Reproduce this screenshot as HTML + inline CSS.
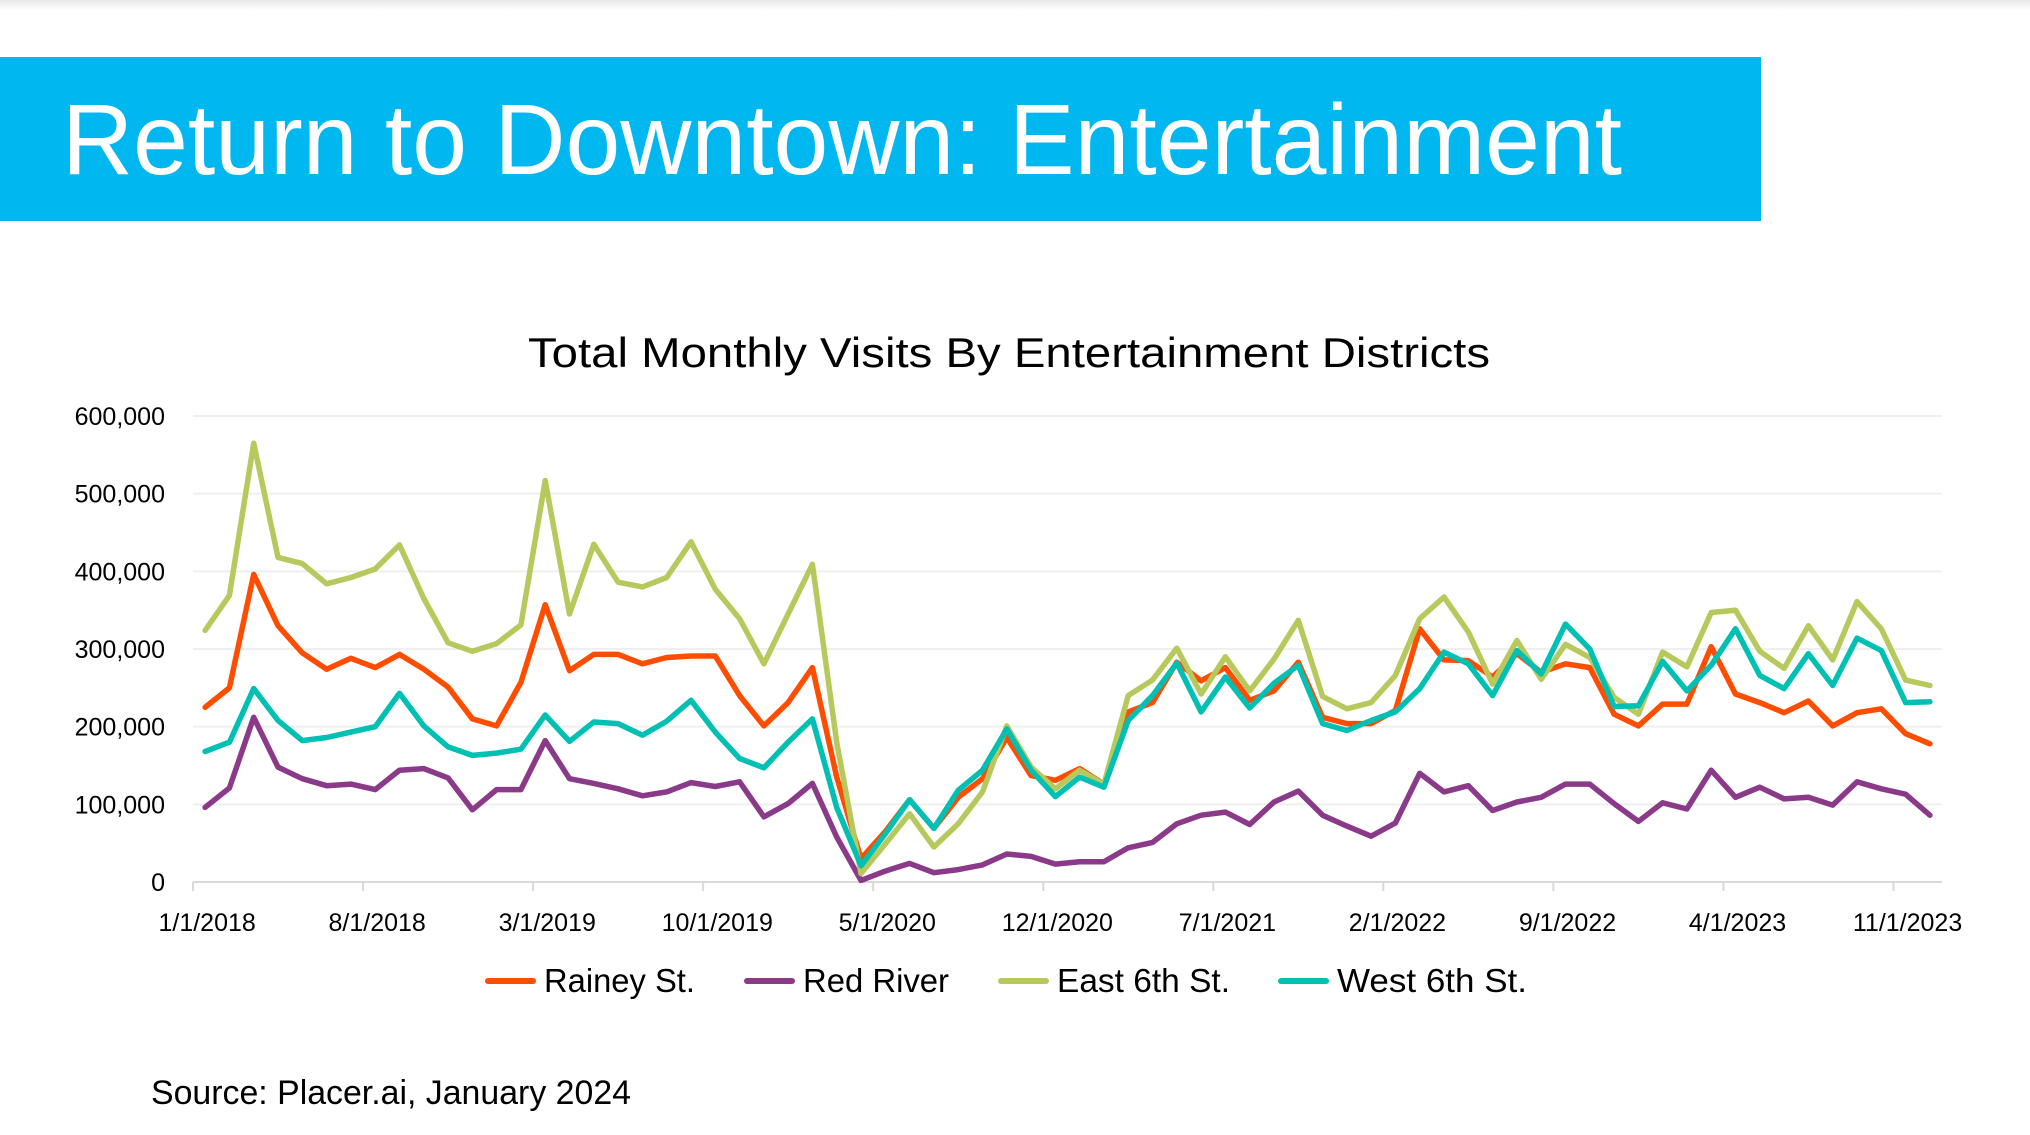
<!DOCTYPE html>
<html><head><meta charset="utf-8">
<style>
html,body{margin:0;padding:0;background:#fff;}
body{width:2030px;height:1135px;overflow:hidden;position:relative;font-family:"Liberation Sans",sans-serif;}
#topshade{position:absolute;left:0;top:0;width:2030px;height:10px;background:linear-gradient(#e8e8e8,#fff);}
</style></head>
<body>
<div id="topshade"></div>
<svg id="page" width="2030" height="1135" style="position:absolute;left:0;top:0">
  <rect x="0" y="57" width="1761" height="164" fill="#00b7ef"/>
  <text x="62" y="174" fill="#fff" font-size="100" textLength="1560" lengthAdjust="spacingAndGlyphs" font-family="Liberation Sans, sans-serif">Return to Downtown: Entertainment</text>
  <text x="1009" y="367" text-anchor="middle" fill="#000" font-size="42" textLength="962" lengthAdjust="spacingAndGlyphs">Total Monthly Visits By Entertainment Districts</text>
  <g id="grid"></g>
  <g id="yticks"></g>
  <g id="xaxis"></g>
  <g id="series"></g>
  <g id="legend"></g>
  <text x="151" y="1104" font-size="34" textLength="480" lengthAdjust="spacingAndGlyphs" fill="#000">Source: Placer.ai, January 2024</text>
</svg>
<script>
const yTicks = [0,100000,200000,300000,400000,500000,600000];
const xLabels = ["1/1/2018","8/1/2018","3/1/2019","10/1/2019","5/1/2020","12/1/2020","7/1/2021","2/1/2022","9/1/2022","4/1/2023","11/1/2023"];
const seriesNames = ["Rainey St.","Red River","East 6th St.","West 6th St."];
const seriesColors = ["#ff4d00","#8b3a8a","#b7c95c","#00bfb3"];
const rainey = [225,250,396,330,295,274,288,276,293,274,251,210,201,257,357,272,293,293,281,289,291,291,240,201,231,276,135,30,65,106,69,109,133,186,137,131,146,126,219,231,283,259,276,234,246,283,212,204,204,221,326,286,285,264,294,270,281,276,216,201,229,229,303,242,231,218,233,201,218,223,191,178];
const redRiver = [96,121,212,148,133,124,126,119,144,146,134,93,119,119,182,133,127,120,111,116,128,123,129,84,101,127,58,2,14,24,12,16,22,36,33,23,26,26,44,51,75,86,90,74,103,117,86,72,59,76,140,116,124,92,103,109,126,126,101,78,102,94,144,109,122,107,109,99,129,120,113,86];
const east6th = [324,369,565,418,410,384,392,403,434,365,308,297,307,331,517,345,435,386,380,392,438,377,339,281,345,409,180,11,49,88,45,75,116,201,148,120,144,126,240,260,301,242,290,246,287,337,239,223,231,266,339,367,322,255,311,261,306,289,238,216,296,277,347,350,297,275,330,286,361,326,260,253];
const west6th = [168,180,249,208,182,186,193,200,243,201,174,163,166,171,215,181,206,204,189,207,234,193,159,147,180,210,96,21,62,106,69,118,144,197,144,110,135,122,208,240,282,219,264,224,256,279,204,195,208,219,249,296,281,240,298,268,332,300,226,227,284,246,279,326,266,249,294,253,314,298,231,232];
const allSeries = [rainey, redRiver, east6th, west6th];

const NS = "http://www.w3.org/2000/svg";
const plotL = 193, plotR = 1942, y0 = 882, yTop = 416;
const nCat = 72;
const catW = (plotR - plotL) / nCat;
function xPos(i){ return plotL + catW * (i + 0.5); }
function yPos(v){ return y0 - (v / 600000) * (y0 - yTop); }
function mk(tag, attrs, parent){ const e = document.createElementNS(NS, tag); for (const k in attrs) e.setAttribute(k, attrs[k]); parent.appendChild(e); return e; }

const grid = document.getElementById('grid');
const yt = document.getElementById('yticks');
yTicks.forEach(v => {
  if (v > 0) {
    const gl = mk('line', {x1:plotL, x2:plotR, y1:yPos(v), y2:yPos(v), stroke:'#efefef', 'stroke-width':2}, grid);
    
    
  }
  const t = mk('text', {x:165, y:yPos(v)+9, 'text-anchor':'end', 'font-size':25, fill:'#000'}, yt);
  t.textContent = v.toLocaleString('en-US');
  
  
});

const xa = document.getElementById('xaxis');
const ax = mk('line', {x1:plotL, x2:plotR, y1:y0, y2:y0, stroke:'#d9d9d9', 'stroke-width':2}, xa);


for (let k = 0; k <= 70; k += 7) {
  const tx = plotL + catW * k;
  const tk = mk('line', {x1:tx, x2:tx, y1:y0, y2:y0+9, stroke:'#d9d9d9', 'stroke-width':2}, xa);
  
  
}
xLabels.forEach((lab, j) => {
  const t = mk('text', {x:xPos(j*7)+2, y:931, 'text-anchor':'middle', 'font-size':25, fill:'#000'}, xa);
  t.textContent = lab;
  
  
});

const sg = document.getElementById('series');
allSeries.forEach((arr, s) => {
  const pts = arr.map((v, i) => xPos(i).toFixed(1) + ',' + yPos(v*1000).toFixed(1)).join(' ');
  const pl = mk('polyline', {points:pts, fill:'none', stroke:seriesColors[s], 'stroke-width':5.5, 'stroke-linejoin':'round', 'stroke-linecap':'round'}, sg);
  
  
});

const lg = document.getElementById('legend');
const legX = [488, 747, 1001, 1281];
const legW = [151, 146, 173, 190];
seriesNames.forEach((n, s) => {
  const ln = mk('line', {x1:legX[s], x2:legX[s]+45, y1:981, y2:981, stroke:seriesColors[s], 'stroke-width':6, 'stroke-linecap':'round'}, lg);
  
  
  const t = mk('text', {x:legX[s]+56, y:992, 'font-size':33, fill:'#000', textLength:legW[s], lengthAdjust:'spacingAndGlyphs'}, lg);
  t.textContent = n;
  
  
});
</script>
</body></html>
